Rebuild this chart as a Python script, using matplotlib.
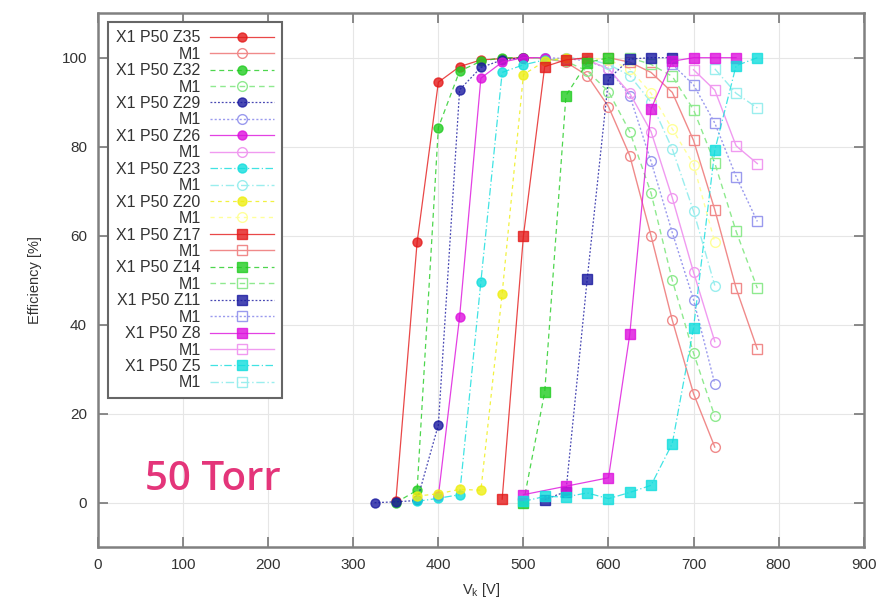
import numpy as np
import matplotlib
matplotlib.use('Agg')
import matplotlib.pyplot as plt

plt.rcParams['font.family'] = ['Liberation Sans', 'DejaVu Sans']

# ---------------- data ----------------
labels = ['X1 P50 Z35', 'X1 P50 Z32', 'X1 P50 Z29', 'X1 P50 Z26', 'X1 P50 Z23',
          'X1 P50 Z20', 'X1 P50 Z17', 'X1 P50 Z14', 'X1 P50 Z11', 'X1 P50 Z8', 'X1 P50 Z5']

v_z35 = [350, 375, 400, 425, 450, 475, 500]
e_z35 = [0.3, 58.5, 94.5, 98, 99.5, 99.8, 100]
v_m_z35 = [500, 525, 550, 575, 600, 625, 650, 675, 700, 725]
e_m_z35 = [100, 99.8, 99, 96, 89, 78, 60, 41, 24.5, 12.5]

v_z32 = [350, 375, 400, 425, 450, 475, 500]
e_z32 = [0, 2.8, 84.3, 97, 99.2, 100, 100]
v_m_z32 = [500, 525, 550, 575, 600, 625, 650, 675, 700, 725]
e_m_z32 = [100, 99.8, 99.2, 97, 92.4, 83.4, 69.6, 50, 33.6, 19.4]

v_z29 = [325, 350, 375, 400, 425, 450, 475, 500]
e_z29 = [0, 0.2, 0.5, 17.5, 92.8, 97.8, 99.5, 100]
v_m_z29 = [525, 550, 575, 600, 625, 650, 675, 700, 725]
e_m_z29 = [100, 99.8, 99.3, 97.5, 91.5, 76.7, 60.7, 45.6, 26.7]

v_z26 = [400, 425, 450, 475, 500, 525]
e_z26 = [1.5, 41.8, 95.4, 99, 100, 100]
v_m_z26 = [550, 575, 600, 625, 650, 675, 700, 725]
e_m_z26 = [100, 99.5, 97.5, 92, 83.4, 68.5, 51.8, 36.2]

v_z23 = [375, 400, 425, 450, 475, 500, 525]
e_z23 = [0.3, 1.0, 1.8, 49.7, 96.7, 98.4, 99.5]
v_m_z23 = [550, 575, 600, 625, 650, 675, 700, 725]
e_m_z23 = [100, 99.7, 98.5, 96, 90, 79.5, 65.5, 48.8]

v_z20 = [375, 400, 425, 450, 475, 500, 525, 550]
e_z20 = [1.5, 2.0, 3.0, 2.8, 47, 96.2, 99.2, 100]
v_m_z20 = [575, 600, 625, 650, 675, 700, 725]
e_m_z20 = [100, 99.5, 97.5, 92, 84, 76, 58.5]

v_z17 = [475, 500, 525, 550, 575]
e_z17 = [0.8, 60, 98, 99.5, 100]
v_m_z17 = [600, 625, 650, 675, 700, 725, 750, 775]
e_m_z17 = [100, 99, 96.7, 92.2, 81.4, 65.8, 48.2, 34.5]

v_z14 = [500, 525, 550, 575, 600]
e_z14 = [0, 24.8, 91.5, 98.9, 100]
v_m_z14 = [625, 650, 675, 700, 725, 750, 775]
e_m_z14 = [100, 98.5, 95.8, 88.3, 76.3, 61, 48.2]

v_z11 = [525, 550, 575, 600, 625, 650, 675]
e_z11 = [0.7, 2.5, 50.3, 95.2, 99.7, 100, 100]
v_m_z11 = [675, 700, 725, 750, 775]
e_m_z11 = [98.5, 93.9, 85.3, 73.3, 63.2]

v_z8 = [500, 550, 600, 625, 650, 675, 700, 725, 750]
e_z8 = [1.8, 3.7, 5.6, 37.8, 88.5, 99.2, 100, 100, 100]
v_m_z8 = [700, 725, 750, 775]
e_m_z8 = [97.3, 92.7, 80.2, 76.2]

v_z5 = [500, 525, 550, 575, 600, 625, 650, 675, 700, 725, 750, 775]
e_z5 = [0.3, 1.4, 1.3, 2.2, 0.9, 2.3, 3.9, 13.3, 39.3, 79.2, 98.2, 100]
v_m_z5 = [725, 750, 775]
e_m_z5 = [97.5, 92, 88.7]

data = [(v_z35, e_z35, v_m_z35, e_m_z35), (v_z32, e_z32, v_m_z32, e_m_z32),
        (v_z29, e_z29, v_m_z29, e_m_z29), (v_z26, e_z26, v_m_z26, e_m_z26),
        (v_z23, e_z23, v_m_z23, e_m_z23), (v_z20, e_z20, v_m_z20, e_m_z20),
        (v_z17, e_z17, v_m_z17, e_m_z17), (v_z14, e_z14, v_m_z14, e_m_z14),
        (v_z11, e_z11, v_m_z11, e_m_z11), (v_z8, e_z8, v_m_z8, e_m_z8),
        (v_z5, e_z5, v_m_z5, e_m_z5)]

# gnuplot-like colour cycle
colors = ['#e41a1a', '#22cc22', '#1a1aa0', '#dd11dd', '#11dddd', '#eeee11']
pale = ['#f08a8a', '#8fea8f', '#9a9aee', '#f09af0', '#9aeeee', '#ffff9a']
styles = ['-', (0, (4, 3)), (0, (1.5, 1.5)), '-', (0, (6, 2, 1, 2)), (0, (3, 3))]

fig, ax = plt.subplots(figsize=(8.84, 6.0), dpi=100)
fig.subplots_adjust(left=0.111, right=0.977, bottom=0.088, top=0.978)

for i, (v, e, vm, em) in enumerate(data):
    c = colors[i % 6]
    pc = pale[i % 6]
    ls = styles[i % 6]
    mk = 'o' if i < 6 else 's'
    ax.plot(v, e, color=c, ls=ls, lw=0.9, alpha=0.8, marker=mk, ms=6.5,
            mfc=c, mec=c, label=labels[i], zorder=3)
    ax.plot(vm, em, color=pc, ls=ls, lw=1.0, marker=mk, ms=7, mfc='none',
            mec=pc, mew=1.0, label='M1', zorder=2)

ax.set_xlim(0, 900)
ax.set_ylim(-10, 110)
ax.set_xticks(np.arange(0, 901, 100))
ax.set_yticks(np.arange(0, 101, 20))
ax.grid(True, color='#e6e6e6', lw=0.8, zorder=0)
ax.tick_params(direction='in', length=7, width=1.2, colors='#777777',
               labelcolor='#333333', labelsize=11, top=True, right=True, pad=8)
for s in ax.spines.values():
    s.set_color('#808080')
    s.set_linewidth(1.8)

ax.set_xlabel('V$_\\mathregular{k}$ [V]', fontsize=10.5, color='#333333', labelpad=6)
ax.set_ylabel('Efficiency [%]', fontsize=10.5, color='#333333', labelpad=14)

leg = ax.legend(loc='upper left', bbox_to_anchor=(0.013, 0.983), borderaxespad=0,
                markerfirst=False, fontsize=11.5, labelspacing=0.09, handlelength=4.0,
                handletextpad=0.6, borderpad=0.5, fancybox=False, framealpha=1,
                edgecolor='#666666', numpoints=1)
leg.get_frame().set_linewidth(1.5)
for t in leg.get_texts():
    t.set_color('#333333')

ax.text(0.061, 0.107, '50 Torr', transform=ax.transAxes, fontsize=29,
        color='#e4357a', family=['Open Sans', 'DejaVu Sans'], weight='semibold',
        va='baseline', ha='left')

fig.savefig('out.png', dpi=100)
